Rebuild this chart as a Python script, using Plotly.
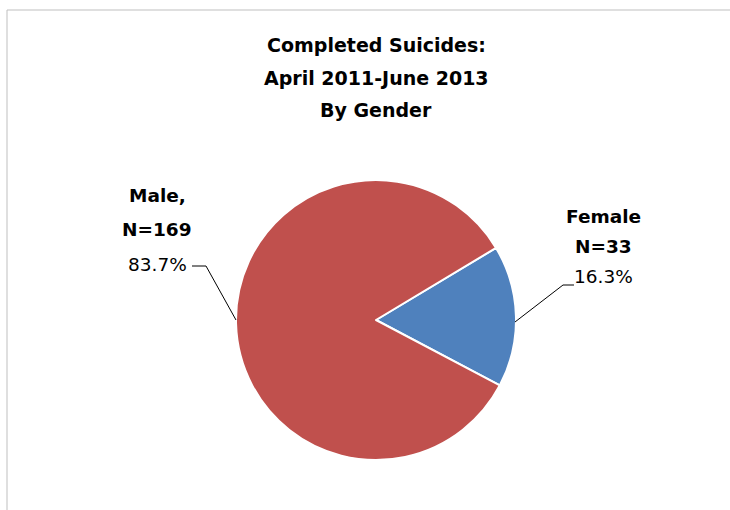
import plotly.graph_objects as go

# ---- data ----
genders = ["Female", "Male"]
counts = [33, 169]
colors = ["#4F81BD", "#C0504D"]
title_lines = ["Completed Suicides:", "April 2011-June 2013", "By Gender"]

W, H = 730, 510
def px(x): return x / W
def py(y): return 1 - y / H

total = sum(counts)
pcts = [c / total * 100 for c in counts]

fig = go.Figure()
fig.add_trace(go.Pie(
    labels=genders, values=counts, sort=False, direction="clockwise",
    rotation=59, textinfo="none", hoverinfo="label+value+percent",
    marker=dict(colors=colors, line=dict(color="white", width=2)),
    domain=dict(x=[px(236), px(516)], y=[py(460), py(180)]),
    showlegend=False,
))

FONT = "DejaVu Sans"
ann = []
for i, t in enumerate(title_lines):
    ann.append(dict(text="<b>%s</b>" % t, x=px(376), y=py(45 + 32.5 * i),
                    xref="paper", yref="paper", showarrow=False,
                    font=dict(family=FONT, size=19, color="black"),
                    xanchor="center", yanchor="middle"))

male_lines = ["<b>%s,</b>" % genders[1], "<b>N=%d</b>" % counts[1], "%.1f%%" % pcts[1]]
for i, t in enumerate(male_lines):
    ann.append(dict(text=t, x=px(157), y=py(196 + 34 * i), xref="paper", yref="paper",
                    showarrow=False, font=dict(family=FONT, size=18.5, color="black"),
                    xanchor="center", yanchor="middle"))
fem_lines = ["<b>%s</b>" % genders[0], "<b>N=%d</b>" % counts[0], "%.1f%%" % pcts[0]]
for i, t in enumerate(fem_lines):
    ann.append(dict(text=t, x=px(603), y=py(216 + 30 * i), xref="paper", yref="paper",
                    showarrow=False, font=dict(family=FONT, size=18.5, color="black"),
                    xanchor="center", yanchor="middle"))

shapes = [
    dict(type="rect", xref="paper", yref="paper", x0=px(7), y0=py(10), x1=px(740), y1=py(520),
         line=dict(color="#BFBFBF", width=1), fillcolor="rgba(0,0,0,0)", layer="below"),
    dict(type="path", xref="paper", yref="paper",
         path="M %f %f L %f %f L %f %f" % (px(192), py(266), px(206), py(266), px(236), py(320)),
         line=dict(color="black", width=1)),
    dict(type="path", xref="paper", yref="paper",
         path="M %f %f L %f %f L %f %f" % (px(574), py(285), px(563), py(285), px(515), py(322)),
         line=dict(color="black", width=1)),
]

fig.update_layout(width=W, height=H, margin=dict(l=0, r=0, t=0, b=0),
                  paper_bgcolor="white", plot_bgcolor="white",
                  annotations=ann, shapes=shapes)
fig.write_html("out.html", config={"displayModeBar": False},
               post_script="document.body.style.margin='0px';document.body.style.overflow='hidden';")
